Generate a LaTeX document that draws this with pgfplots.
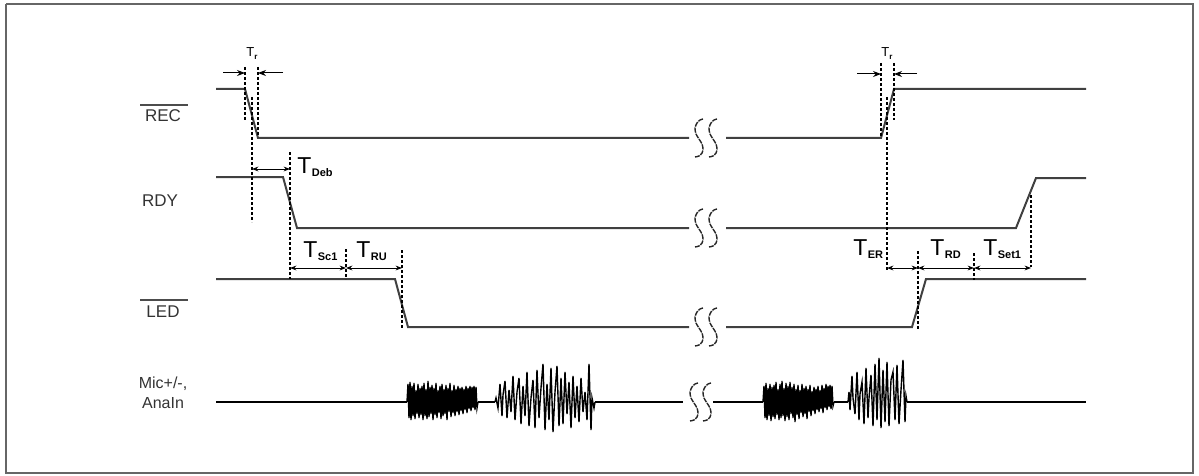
\documentclass[border=0pt]{standalone}
\usepackage{fontspec}
\setmainfont{Liberation Sans}
\usepackage{pgfplots}
\pgfplotsset{compat=1.18}
\usepackage{pgfplotstable}
\usetikzlibrary{arrows.meta}

\pgfplotstableread{
dx dy
4 -19
1 -18
-2 -15
-4 -10
-3 -4
0 1
3 6
4 11
3 15
0 18
-4 19
}\Sshape

\newcommand{\Tl}[1]{{\fontsize{11.5}{12}\selectfont T}\kern0.2pt\raisebox{-1.8pt}{\fontsize{5.5}{6}\selectfont\bfseries #1}}
\newcommand{\Tr}{{\fontsize{6.5}{7}\selectfont T}\raisebox{-1.2pt}{\fontsize{4}{4}\selectfont\bfseries r}}

\begin{document}
\begin{tikzpicture}
\begin{axis}[hide axis, scale only axis, width=599.5pt, height=238pt,
 xmin=0, xmax=1199, ymin=0, ymax=476, y dir=reverse, clip=false,
 sig/.style={line width=1pt, color=black!75},
 mic/.style={line width=0.8pt, color=black},
 burst/.style={line width=0.7pt, color=black},
 dsh/.style={line width=0.6pt, black, dash pattern=on 1.6pt off 0.9pt},
 arr/.style={line width=0.5pt, black, -{Stealth[length=4pt,width=3pt]}},
 darr/.style={line width=0.5pt, black, {Stealth[length=3.2pt,width=2.4pt]}-{Stealth[length=3.2pt,width=2.4pt]}},
 brk/.style={line width=0.7pt, black!85, smooth, dash pattern=on 2.6pt off 0.5pt},
]
\path (rel axis cs:0,0) rectangle (rel axis cs:1,1);
% frame
\addplot[line width=0.75pt, black!60] coordinates {(6,4)(1193,4)(1193,473)(6,473)(6,4)};

% REC
\addplot[sig] coordinates {(216,89)(245,89)(258,138)(689,138)};
\addplot[sig] coordinates {(726,138)(881,138)(894,89)(1086,89)};
% RDY
\addplot[sig] coordinates {(216,177)(283,177)(297,228)(689,228)};
\addplot[sig] coordinates {(726,228)(1016,228)(1036,178)(1086,178)};
% LED
\addplot[sig] coordinates {(216,279)(395,279)(408,327)(689,327)};
\addplot[sig] coordinates {(726,327)(912,327)(926,279)(1086,279)};
% Mic / AnaIn
\addplot[mic] coordinates {(216,402)(407,402)};
\addplot[burst] coordinates {
(407,402)(408,384)(409,418)(410,382)(411,420)(412,386)(413,416)(414,383)(415,419)(416,390)(417,414)(418,384)(419,418)(420,388)(421,415)(422,386)(423,420)(424,383)(425,416)(426,389)(427,419)(428,381)(429,417)(430,387)(431,414)(432,385)(433,420)(434,388)(435,415)(436,383)(437,418)(438,390)(439,413)(440,386)(441,419)(442,384)(443,416)(444,389)(445,414)(446,385)(447,420)(448,388)(449,412)(450,383)(451,417)(452,390)(453,413)(454,385)(455,416)(456,389)(457,412)(458,386)(459,415)(460,388)(461,411)(462,387)(463,414)(464,389)(465,410)(466,386)(467,413)(468,388)(469,409)(470,386)(471,411)(472,387)(473,408)(474,386)(475,410)(476,387)(477,408)(478,402)};
\addplot[mic] coordinates {(478,402)(495,402)};
\addplot[burst] coordinates {
(495,402)(496,398)(498,408)(500,384)(502,416)(503,395)(505,381)(507,418)(509,390)(511,412)(513,376)(515,420)(517,392)(519,378)(521,424)(523,386)(525,416)(527,372)(529,426)(531,398)(533,380)(535,428)(537,370)(539,418)(541,388)(543,364)(545,430)(547,384)(549,420)(551,368)(553,432)(555,392)(557,366)(559,426)(561,378)(563,424)(565,372)(567,414)(569,382)(571,428)(573,376)(575,418)(577,386)(579,422)(581,378)(583,412)(585,392)(587,420)(589,364)(591,430)(592,398)(594,408)(595,402)};
\addplot[mic] coordinates {(595,402)(683,402)};
\addplot[mic] coordinates {(713,402)(763,402)};
\addplot[burst] coordinates {
(763,402)(764,386)(765,418)(766,383)(767,420)(768,388)(769,416)(770,384)(771,421)(772,387)(773,417)(774,385)(775,419)(776,382)(777,415)(778,389)(779,420)(780,384)(781,418)(782,381)(783,416)(784,388)(785,421)(786,383)(787,417)(788,386)(789,420)(790,382)(791,414)(792,387)(793,418)(794,384)(795,422)(796,389)(797,415)(798,385)(799,419)(800,390)(801,413)(802,384)(803,417)(804,388)(805,414)(806,386)(807,419)(808,389)(809,412)(810,385)(811,416)(812,391)(813,411)(814,387)(815,414)(816,389)(817,410)(818,386)(819,412)(820,390)(821,409)(822,385)(823,413)(824,388)(825,408)(826,384)(827,410)(828,386)(829,407)(830,385)(831,409)(832,386)(833,406)(834,402)};
\addplot[mic] coordinates {(834,402)(848,402)};
\addplot[burst] coordinates {
(848,402)(849,392)(850,410)(852,376)(853,398)(855,414)(857,372)(859,420)(860,394)(862,382)(864,424)(866,368)(868,418)(869,398)(871,375)(873,426)(875,364)(877,420)(879,358)(881,428)(883,370)(885,422)(887,362)(889,426)(891,380)(893,372)(895,420)(897,365)(899,424)(901,390)(903,360)(905,422)(906,396)(907,402)};
\addplot[mic] coordinates {(907,402)(1086,402)};

% break marks
\addplot[brk] table[x expr=\thisrow{dx}+699, y expr=\thisrow{dy}+138] {\Sshape};
\addplot[brk] table[x expr=\thisrow{dx}+713, y expr=\thisrow{dy}+138] {\Sshape};
\addplot[brk] table[x expr=\thisrow{dx}+699, y expr=\thisrow{dy}+228] {\Sshape};
\addplot[brk] table[x expr=\thisrow{dx}+713, y expr=\thisrow{dy}+228] {\Sshape};
\addplot[brk] table[x expr=\thisrow{dx}+699, y expr=\thisrow{dy}+327] {\Sshape};
\addplot[brk] table[x expr=\thisrow{dx}+713, y expr=\thisrow{dy}+327] {\Sshape};
\addplot[brk] table[x expr=\thisrow{dx}+694, y expr=\thisrow{dy}+402] {\Sshape};
\addplot[brk] table[x expr=\thisrow{dx}+707, y expr=\thisrow{dy}+402] {\Sshape};

% dashed guides
\addplot[dsh] coordinates {(245,67)(245,121)};
\addplot[dsh] coordinates {(258,67)(258,137)};
\addplot[dsh] coordinates {(252,97)(252,222)};
\addplot[dsh] coordinates {(290,152)(290,279)};
\addplot[dsh] coordinates {(346,249)(346,279)};
\addplot[dsh] coordinates {(402,250)(402,328)};
\addplot[dsh] coordinates {(881,63)(881,137)};
\addplot[dsh] coordinates {(894,63)(894,120)};
\addplot[dsh] coordinates {(887,97)(887,271)};
\addplot[dsh] coordinates {(918,251)(918,329)};
\addplot[dsh] coordinates {(974,253)(974,280)};
\addplot[dsh] coordinates {(1031,195)(1031,267)};

% arrows
\addplot[arr] coordinates {(223,73)(245,73)};
\addplot[arr] coordinates {(283,73)(258,73)};
\addplot[arr] coordinates {(857,74)(881,74)};
\addplot[arr] coordinates {(917,74)(894,74)};
\addplot[darr] coordinates {(252,169)(290,169)};
\addplot[darr] coordinates {(290,268)(346,268)};
\addplot[darr] coordinates {(346,268)(402,268)};
\addplot[darr] coordinates {(887,268)(918,268)};
\addplot[darr] coordinates {(918,268)(974,268)};
\addplot[darr] coordinates {(974,268)(1031,268)};

% overlines
\addplot[line width=0.6pt, black!70] coordinates {(140,105)(188,105)};
\addplot[line width=0.6pt, black!70] coordinates {(140,300)(188,300)};

% labels
\node[anchor=base, inner sep=0pt, font=\fontsize{8.5}{9}\selectfont, text=black!80] at (axis cs:163,121) {REC};
\node[anchor=base, inner sep=0pt, font=\fontsize{8.5}{9}\selectfont, text=black!80] at (axis cs:160,206) {RDY};
\node[anchor=base, inner sep=0pt, font=\fontsize{8.5}{9}\selectfont, text=black!80] at (axis cs:163,317) {LED};
\node[anchor=base, inner sep=0pt, font=\fontsize{8}{9}\selectfont, text=black!80] at (axis cs:163,388) {Mic+/-,};
\node[anchor=base, inner sep=0pt, font=\fontsize{8}{9}\selectfont, text=black!80] at (axis cs:163,408) {AnaIn};

\node[anchor=base west, inner sep=0pt] at (axis cs:246,57) {\Tr};
\node[anchor=base west, inner sep=0pt] at (axis cs:881,57) {\Tr};
\node[anchor=base west, inner sep=0pt] at (axis cs:297,173) {\Tl{Deb}};
\node[anchor=base west, inner sep=0pt] at (axis cs:303,257) {\Tl{Sc1}};
\node[anchor=base west, inner sep=0pt] at (axis cs:356,257) {\Tl{RU}};
\node[anchor=base west, inner sep=0pt] at (axis cs:853,255) {\Tl{ER}};
\node[anchor=base west, inner sep=0pt] at (axis cs:930,255) {\Tl{RD}};
\node[anchor=base west, inner sep=0pt] at (axis cs:983,255) {\Tl{Set1}};
\end{axis}
\end{tikzpicture}
\end{document}
